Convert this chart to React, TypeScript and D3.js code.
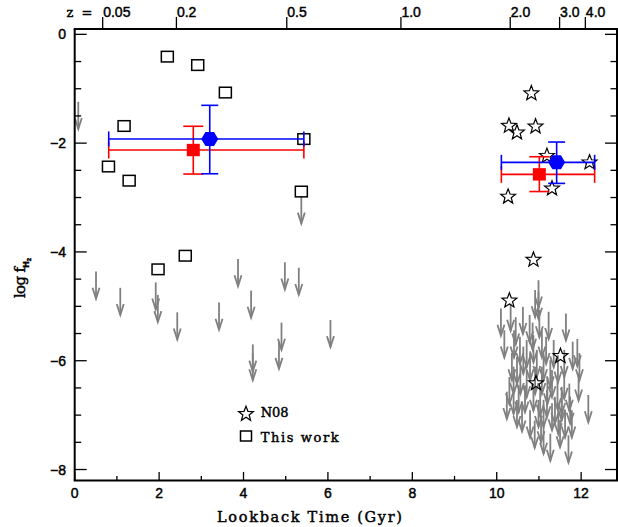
import React from "react";
import * as d3 from "d3";

// ---- data (log f_H2 vs lookback time, Gyr) ----
const thisWorkX = [2.195, 2.915, 3.57, 1.17, 0.8, 1.29, 5.43, 5.37, 1.975, 2.62];
const thisWorkY = [-0.41, -0.565, -1.07, -1.685, -2.43, -2.69, -1.925, -2.89, -4.32, -4.07];

const n08X = [10.82, 10.29, 10.48, 10.92, 11.19, 12.2, 11.31, 10.27, 10.87, 10.3, 11.51, 10.93];
const n08Y = [-1.07, -1.667, -1.79, -1.68, -2.22, -2.34, -2.82, -2.97, -4.13, -4.88, -5.9, -6.4];

// upper limits (arrow tail = limit)
const limitX = [
  0.085, 5.37, 0.505, 1.08, 1.92, 1.97, 2.43, 3.42, 3.87, 4.18, 4.22, 4.22, 4.98, 5.31, 4.9, 4.84, 6.06,
  10.99, 10.99, 10.91, 10.1, 10.33, 10.62, 10.78, 11.01, 11.23, 11.64, 10.18, 10.41, 10.55, 10.71, 10.87,
  11.07, 11.17, 11.35, 11.8, 11.91, 11.96, 11.6, 10.36, 10.48, 10.63, 10.79, 10.95, 11.11, 11.27, 10.4,
  10.56, 10.71, 10.91, 11.07, 11.31, 11.44, 11.54, 11.72, 11.94, 10.24, 10.4, 10.52, 10.67, 10.87, 11.03,
  11.19, 11.38, 11.54, 11.74, 12.17, 10.48, 10.79, 10.99, 11.11, 11.31, 11.46, 11.62, 11.78, 11.11, 11.27,
  11.5, 11.7, 10.45, 10.85, 11.45, 10.6, 11.2, 10.3, 11.6, 11.05, 10.9,
];
const limitY = [
  -1.24, -2.98, -4.36, -4.66, -4.56, -4.79, -5.11, -4.93, -4.13, -4.71, -5.7, -5.86, -4.19, -4.29, -5.3, -5.65, -5.25,
  -4.52, -4.73, -4.7, -5.04, -4.95, -5.01, -5.16, -5.07, -5.1, -5.13, -5.44, -5.44, -5.56, -5.62, -5.53,
  -5.44, -5.56, -5.62, -5.65, -5.6, -5.86, -5.8, -5.86, -5.93, -5.74, -5.86, -5.8, -5.86, -5.99, -6.11,
  -6.11, -6.17, -6.11, -6.11, -6.17, -6.39, -6.48, -6.42, -6.23, -6.57, -6.48, -6.45, -6.45, -6.42, -6.51,
  -6.54, -6.66, -6.6, -6.66, -6.63, -6.72, -6.91, -6.72, -6.72, -6.78, -6.85, -6.91, -6.91, -7.21, -7.34,
  -7.09, -7.37, -5.2, -5.3, -5.9, -6.8, -6.3, -6.3, -6.2, -7.0, -7.1,
];

// mean values with error bars
const blueX = [3.2, 11.42];
const blueY = [-1.923, -2.353];
const blueXlo = [0.806, 10.11];
const blueXhi = [5.43, 12.32];
const blueYlo = [-2.563, -2.74];
const blueYhi = [-1.305, -1.98];

const redX = [2.81, 11.01];
const redY = [-2.127, -2.574];
const redXlo = [0.806, 10.11];
const redXhi = [5.43, 12.32];
const redYlo = [-2.568, -2.89];
const redYhi = [-1.69, -2.25];

const xTicks = [0, 2, 4, 6, 8, 10, 12];
const xMinor = [1, 3, 5, 7, 9, 11];
const yTicks = [0, -2, -4, -6, -8];
const yMinor = [-0.5, -1, -1.5, -2.5, -3, -3.5, -4.5, -5, -5.5, -6.5, -7, -7.5];
const zLabels = ["0.05", "0.2", "0.5", "1.0", "2.0", "3.0", "4.0"];
const zLookback = [0.663, 2.41, 5.025, 7.73, 10.32, 11.49, 12.1];

const W = 618;
const H = 527;

function starPath(cx: number, cy: number, ro: number, ri: number) {
  const pts: string[] = [];
  for (let i = 0; i < 10; i++) {
    const r = i % 2 === 0 ? ro : ri;
    const a = -Math.PI / 2 + (i * Math.PI) / 5;
    pts.push(`${cx + r * Math.cos(a)},${cy + r * Math.sin(a)}`);
  }
  return `M${pts.join("L")}Z`;
}

function hexPath(cx: number, cy: number) {
  const p = [
    [-8.5, 0], [-4.3, -7], [4.3, -7], [8.5, 0], [4.3, 7], [-4.3, 7],
  ];
  return "M" + p.map(([a, b]) => `${cx + a},${cy + b}`).join("L") + "Z";
}

export default function App() {
  const x = d3.scaleLinear().domain([0, 12.85]).range([74.7, 617]);
  const y = d3.scaleLinear().domain([0.1, -8.2]).range([28.9, 480.4]);
  const [x0, x1] = x.range();
  const [y0, y1] = y.range();
  const arrowLen = y(-0.5) - y(0);
  const gray = "#808080";
  const numFont = "'Liberation Sans', Arial, sans-serif";
  const serif = "'DejaVu Serif', serif";
  const thick = { stroke: "#000", strokeWidth: 0.45 };

  const errBar = (
    cx: number[], cy: number[], xlo: number[], xhi: number[], ylo: number[], yhi: number[],
    color: string, capW: number, capH: number, key: string
  ) =>
    cx.map((_, i) => (
      <g key={key + i} stroke={color} strokeWidth={1.6} fill="none">
        <line x1={x(xlo[i])} x2={x(xhi[i])} y1={y(cy[i])} y2={y(cy[i])} />
        <line x1={x(xlo[i])} x2={x(xlo[i])} y1={y(cy[i]) - capH / 2} y2={y(cy[i]) + capH / 2} />
        <line x1={x(xhi[i])} x2={x(xhi[i])} y1={y(cy[i]) - capH / 2} y2={y(cy[i]) + capH / 2} />
        <line x1={x(cx[i])} x2={x(cx[i])} y1={y(ylo[i])} y2={y(yhi[i])} />
        <line x1={x(cx[i]) - capW / 2} x2={x(cx[i]) + capW / 2} y1={y(ylo[i])} y2={y(ylo[i])} />
        <line x1={x(cx[i]) - capW / 2} x2={x(cx[i]) + capW / 2} y1={y(yhi[i])} y2={y(yhi[i])} />
      </g>
    ));

  return (
    <svg
      width={W}
      height={H}
      style={{ position: "absolute", left: 0, top: 0, background: "#fff" }}
    >
      <rect width={W} height={H} fill="#fff" />

      {/* upper-limit arrows */}
      <g stroke={gray} strokeWidth={1.8} fill="none">
        {limitX.map((lx, i) => {
          const px = x(lx);
          const pt = y(limitY[i]);
          const pb = pt + arrowLen;
          return (
            <g key={"a" + i}>
              <line x1={px} x2={px} y1={pt} y2={pb} />
              <polyline points={`${px - 3.5},${pb - 11} ${px},${pb} ${px + 3.5},${pb - 11}`} />
            </g>
          );
        })}
      </g>

      {/* This work: open squares */}
      <g stroke="#000" strokeWidth={1.5} fill="none">
        {thisWorkX.map((tx, i) => (
          <rect key={"s" + i} x={x(tx) - 6} y={y(thisWorkY[i]) - 5.3} width={12} height={10.6} />
        ))}
      </g>

      {/* N08 stars */}
      <g stroke="#000" strokeWidth={1.2} fill="none">
        {n08X.map((sx, i) => (
          <path key={"st" + i} d={starPath(x(sx), y(n08Y[i]) + 0.8, 7.8, 3.3)} />
        ))}
      </g>

      {/* means */}
      {errBar(redX, redY, redXlo, redXhi, redYlo, redYhi, "#ff0000", 20, 17, "r")}
      {errBar(blueX, blueY, blueXlo, blueXhi, blueYlo, blueYhi, "#0000ff", 17, 15, "b")}
      {redX.map((rx, i) => (
        <rect key={"rm" + i} x={x(rx) - 6.5} y={y(redY[i]) - 6.2} width={13} height={12.4} fill="#ff0000" />
      ))}
      {blueX.map((bx, i) => (
        <path key={"bm" + i} d={hexPath(x(bx), y(blueY[i]))} fill="#0000ff" />
      ))}

      {/* frame */}
      <g stroke="#000" strokeWidth={2} fill="none">
        <line x1={x0} x2={x0} y1={y0} y2={y1} />
        <line x1={x1} x2={x1} y1={y0} y2={y1} />
        <line x1={x0 - 1} x2={x1 + 1} y1={y1} y2={y1} />
        <line x1={x0 - 1} x2={x1 + 1} y1={y0} y2={y0} />
      </g>

      {/* ticks */}
      <g stroke="#000" strokeWidth={1.3}>
        {xTicks.map((t) => (
          <line key={"xt" + t} x1={x(t)} x2={x(t)} y1={y1} y2={y1 - 8.5} />
        ))}
        {xMinor.map((t) => (
          <line key={"xm" + t} x1={x(t)} x2={x(t)} y1={y1} y2={y1 - 4.5} />
        ))}
        {yTicks.map((t) => (
          <g key={"yt" + t}>
            <line x1={x0} x2={x0 + 12} y1={y(t)} y2={y(t)} />
            <line x1={x1} x2={x1 - 12} y1={y(t)} y2={y(t)} />
          </g>
        ))}
        {yMinor.map((t) => (
          <g key={"ym" + t}>
            <line x1={x0} x2={x0 + 6.5} y1={y(t)} y2={y(t)} />
            <line x1={x1} x2={x1 - 6.5} y1={y(t)} y2={y(t)} />
          </g>
        ))}
        {zLookback.map((t, i) => (
          <line key={"zt" + i} x1={x(t)} x2={x(t)} y1={y0} y2={y0 - 12} />
        ))}
      </g>

      {/* tick labels */}
      <g fontFamily={numFont} fontSize={14} fill="#000" {...thick}>
        {xTicks.map((t) => (
          <text key={"xl" + t} x={x(t)} y={498} textAnchor="middle">
            {String(t)}
          </text>
        ))}
        {yTicks.map((t) => (
          <text key={"yl" + t} x={66} y={y(t) + 5} textAnchor="end">
            {t === 0 ? "0" : "\u2212" + Math.abs(t)}
          </text>
        ))}
        {zLookback.map((t, i) => (
          <text key={"zl" + i} x={x(t) + 0.5} y={16.7} textAnchor="start">
            {zLabels[i]}
          </text>
        ))}
        <text x={66.5} y={16.7} fontFamily={serif} fontSize={13} textLength={26} lengthAdjust="spacing">z =</text>
      </g>

      {/* axis titles */}
      <text
        x={217}
        y={522}
        fontFamily={serif}
        fontSize={14.5}
        textLength={185}
        lengthAdjust="spacing"
        {...thick}
      >
        Lookback Time (Gyr)
      </text>
      <text transform="translate(25,298) rotate(-90)" fontFamily={serif} fontSize={15} {...thick}>
        <tspan textLength={31} lengthAdjust="spacing">log f</tspan>
        <tspan dy={4} fontSize={9} fontFamily={numFont} fontWeight="bold">H</tspan>
        <tspan dy={2} fontSize={6} fontFamily={numFont} fontWeight="bold">2</tspan>
      </text>

      {/* legend */}
      <path d={starPath(246, 414, 7.8, 3.3)} stroke="#000" strokeWidth={1.2} fill="none" />
      <text x={260.7} y={416.7} fontFamily={serif} fontSize={13} {...thick}>N08</text>
      <rect x={240.5} y={431} width={11} height={10} stroke="#000" strokeWidth={1.5} fill="none" />
      <text x={260.7} y={442} fontFamily={serif} fontSize={13} textLength={78} lengthAdjust="spacing" {...thick}>
        This work
      </text>
    </svg>
  );
}
